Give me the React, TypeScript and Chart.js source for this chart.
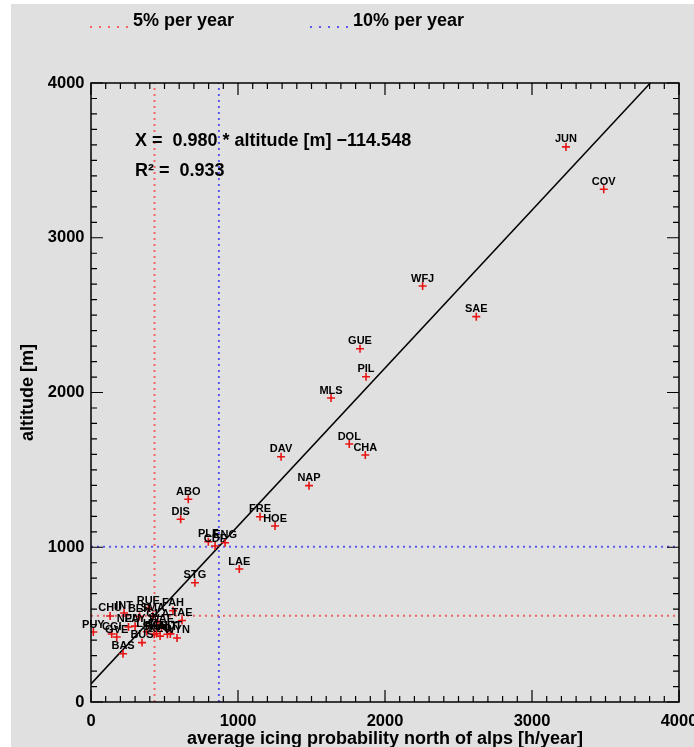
import { useEffect, useRef } from "react";
import { Chart, registerables } from "chart.js";

Chart.register(...registerables);

// ---- data ----
const stationLabels = [
  "JUN", "COV", "WFJ", "SAE", "GUE", "PIL", "MLS", "DOL", "CHA", "DAV",
  "NAP", "ABO", "DIS", "FRE", "HOE", "PLF", "CDF", "ENG", "LAE", "STG",
  "PUY", "CGI", "GVE", "CHU", "INT", "BAS", "BUS", "NEU", "PAY", "LUZ",
  "BER", "RUE", "SMA", "REH", "KLO", "SHA", "WAE", "GLA", "ALT", "GUT",
  "WYN", "FAH", "TAE",
];
const icingHours = [
  3231, 3488, 2256, 2621, 1830, 1871, 1633, 1757, 1866, 1293,
  1483, 662, 610, 1150, 1252, 798, 844, 912, 1009, 707,
  16, 141, 175, 130, 225, 218, 347, 255, 300, 380,
  330, 390, 420, 445, 470, 430, 480, 455, 520, 540,
  585, 558, 619,
];
const altitudes = [
  3587, 3313, 2688, 2490, 2283, 2102, 1964, 1667, 1596, 1585,
  1398, 1310, 1181, 1197, 1137, 1036, 1008, 1029, 859, 771,
  452, 439, 420, 556, 575, 312, 384, 485, 490, 454,
  553, 605, 556, 443, 426, 438, 485, 517, 438, 440,
  414, 590, 527,
];

const fitX = [0, 3805];
const fitAlt = [117, 4000];

const threshold5X = 432;
const threshold5Alt = 558;
const threshold10X = 870;
const threshold10Alt = 1004;

const axisMin = 0;
const axisMax = 4000;
const majorStep = 1000;
const minorStep = 100;

const legendLabels = ["5% per year", "10% per year"];
const equationText = "X =  0.980 * altitude [m] \u2212114.548";
const r2Text = "R\u00b2 =  0.933";
const xTitle = "average icing probability north of alps [h/year]";
const yTitle = "altitude [m]";

const FONT = "'Liberation Sans', Arial, Helvetica, sans-serif";
const RED_MARK = "rgb(232,20,20)";
const RED_DOT = "rgb(238,100,100)";
const BLUE_DOT = "rgb(90,90,238)";
const BG = "#e0e0e0";

const bgPlugin = {
  id: "bgPlugin",
  beforeDraw(chart: any) {
    const { ctx, width, height } = chart;
    ctx.save();
    ctx.fillStyle = "#ffffff";
    ctx.fillRect(0, 0, width, height);
    ctx.fillStyle = BG;
    ctx.fillRect(11, 4, width - 11, height - 4);
    ctx.restore();
  },
};

const framePlugin = {
  id: "framePlugin",
  afterDatasetsDraw(chart: any) {
    const { ctx, chartArea, scales } = chart;
    const { left, right, top, bottom } = chartArea;
    const x = scales.x;
    const y = scales.y;
    ctx.save();
    ctx.strokeStyle = "#000";
    ctx.lineWidth = 1.5;
    ctx.strokeRect(left, top, right - left, bottom - top);
    ctx.lineWidth = 1.2;
    ctx.beginPath();
    for (let v = axisMin; v <= axisMax; v += minorStep) {
      const len = v % majorStep === 0 ? 12 : 6;
      const px = x.getPixelForValue(v);
      ctx.moveTo(px, bottom);
      ctx.lineTo(px, bottom - len);
      ctx.moveTo(px, top);
      ctx.lineTo(px, top + len);
      const py = y.getPixelForValue(v);
      ctx.moveTo(left, py);
      ctx.lineTo(left + len, py);
      ctx.moveTo(right, py);
      ctx.lineTo(right - len, py);
    }
    ctx.stroke();

    // station labels
    const meta = chart.getDatasetMeta(0);
    ctx.fillStyle = "#000";
    ctx.font = `bold 11px ${FONT}`;
    ctx.textAlign = "center";
    ctx.textBaseline = "alphabetic";
    meta.data.forEach((el: any, i: number) => {
      ctx.fillText(stationLabels[i], el.x, el.y - 4.5);
    });

    // regression text
    ctx.textAlign = "left";
    ctx.font = `bold 18px ${FONT}`;
    ctx.fillText(equationText, 135, 145.5);
    ctx.fillText(r2Text, 135, 175.5);
    ctx.restore();
  },
  afterDraw(chart: any) {
    const { ctx } = chart;
    ctx.save();
    ctx.lineWidth = 2;
    ctx.setLineDash([2, 7]);
    ctx.strokeStyle = RED_DOT;
    ctx.beginPath();
    ctx.moveTo(90, 27);
    ctx.lineTo(130, 27);
    ctx.stroke();
    ctx.strokeStyle = BLUE_DOT;
    ctx.beginPath();
    ctx.moveTo(310, 27);
    ctx.lineTo(350, 27);
    ctx.stroke();
    ctx.setLineDash([]);
    ctx.fillStyle = "#000";
    ctx.font = `bold 18px ${FONT}`;
    ctx.textAlign = "left";
    ctx.textBaseline = "alphabetic";
    ctx.fillText(legendLabels[0], 133, 26);
    ctx.fillText(legendLabels[1], 353, 26);
    ctx.restore();
  },
};

export default function App() {
  const canvasRef = useRef<HTMLCanvasElement | null>(null);

  useEffect(() => {
    document.body.style.margin = "0";
    const canvas = canvasRef.current;
    if (!canvas) return;

    const points = icingHours.map((h, i) => ({ x: h, y: altitudes[i] }));
    const fitLine = fitX.map((v, i) => ({ x: v, y: fitAlt[i] }));

    const chart = new Chart(canvas, {
      type: "scatter",
      data: {
        datasets: [
          {
            label: "stations",
            data: points,
            pointStyle: "cross",
            pointRadius: 4,
            pointHoverRadius: 4,
            borderColor: RED_MARK,
            backgroundColor: RED_MARK,
            pointBorderWidth: 1.6,
            showLine: false,
          },
          {
            label: "fit",
            data: fitLine,
            showLine: true,
            pointRadius: 0,
            borderColor: "#000",
            borderWidth: 1.5,
          },
          {
            label: legendLabels[0],
            data: [{ x: threshold5X, y: axisMin }, { x: threshold5X, y: axisMax }],
            showLine: true,
            pointRadius: 0,
            borderColor: RED_DOT,
            borderWidth: 2,
            borderDash: [2, 4],
          },
          {
            label: legendLabels[0] + " h",
            data: [{ x: axisMin, y: threshold5Alt }, { x: axisMax, y: threshold5Alt }],
            showLine: true,
            pointRadius: 0,
            borderColor: RED_DOT,
            borderWidth: 2,
            borderDash: [2, 4],
          },
          {
            label: legendLabels[1],
            data: [{ x: threshold10X, y: axisMin }, { x: threshold10X, y: axisMax }],
            showLine: true,
            pointRadius: 0,
            borderColor: BLUE_DOT,
            borderWidth: 2,
            borderDash: [2, 4],
          },
          {
            label: legendLabels[1] + " h",
            data: [{ x: axisMin, y: threshold10Alt }, { x: axisMax, y: threshold10Alt }],
            showLine: true,
            pointRadius: 0,
            borderColor: BLUE_DOT,
            borderWidth: 2,
            borderDash: [2, 4],
          },
        ],
      },
      options: {
        animation: false,
        responsive: false,
        devicePixelRatio: 1,
        events: [],
        layout: { padding: { left: 15, right: 15, top: 83, bottom: 0 } },
        plugins: {
          legend: { display: false },
          tooltip: { enabled: false },
          title: { display: false },
        },
        scales: {
          x: {
            type: "linear",
            position: "bottom",
            min: axisMin,
            max: axisMax,
            grid: { display: false, drawTicks: false },
            border: { display: false },
            ticks: {
              stepSize: majorStep,
              autoSkip: false,
              maxRotation: 0,
              padding: 10,
              color: "#000",
              font: { family: FONT, weight: "bold", size: 16.5 },
              callback: (v: any) => String(v),
            },
            title: {
              display: true,
              text: xTitle,
              color: "#000",
              font: { family: FONT, weight: "bold", size: 18, lineHeight: 1 },
              padding: { top: 0, bottom: -1 },
            },
            afterFit: (s: any) => {
              s.height = 45;
              s.paddingLeft = 0;
              s.paddingRight = 0;
            },
          },
          y: {
            type: "linear",
            min: axisMin,
            max: axisMax,
            grid: { display: false, drawTicks: false },
            border: { display: false },
            ticks: {
              stepSize: majorStep,
              autoSkip: false,
              padding: 6.5,
              color: "#000",
              font: { family: FONT, weight: "bold", size: 16.5 },
              callback: (v: any) => String(v),
            },
            title: {
              display: true,
              text: yTitle,
              color: "#000",
              font: { family: FONT, weight: "bold", size: 18, lineHeight: 1 },
              padding: { top: 4, bottom: 0 },
            },
            afterFit: (s: any) => {
              s.width = 76;
              s.paddingTop = 0;
              s.paddingBottom = 0;
            },
          },
        },
      } as any,
      plugins: [bgPlugin, framePlugin],
    });

    return () => chart.destroy();
  }, []);

  return (
    <div style={{ width: 694, height: 747, position: "relative" }}>
      <canvas ref={canvasRef} width={694} height={747} style={{ display: "block" }} />
    </div>
  );
}
